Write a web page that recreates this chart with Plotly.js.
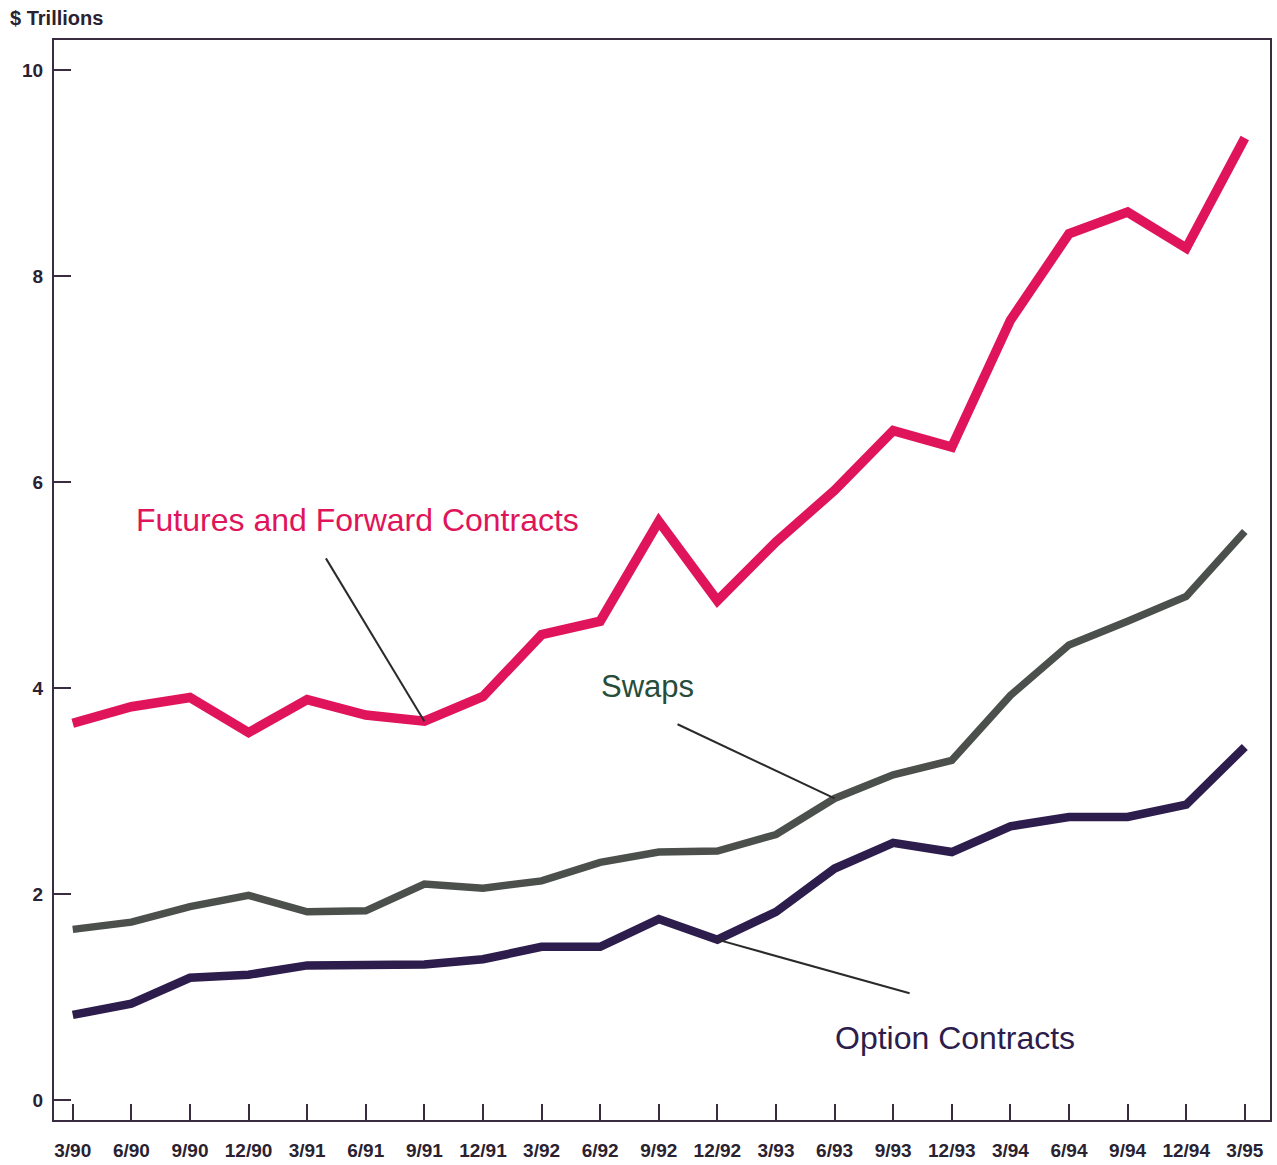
<!DOCTYPE html>
<html>
<head>
<meta charset="utf-8">
<script src="https://cdn.plot.ly/plotly-3.0.1.min.js"></script>
<style>html,body{margin:0;padding:0;background:#fff;}#chart{width:1277px;height:1165px;}</style>
</head>
<body>
<div id="chart"></div>
<script>
const quarters = ["3/90","6/90","9/90","12/90","3/91","6/91","9/91","12/91","3/92","6/92","9/92","12/92","3/93","6/93","9/93","12/93","3/94","6/94","9/94","12/94","3/95"];
const futuresForwards = [3.66,3.82,3.91,3.57,3.89,3.74,3.68,3.92,4.52,4.65,5.62,4.85,5.42,5.92,6.50,6.34,7.57,8.41,8.62,8.27,9.34];
const swaps = [1.66,1.73,1.88,1.99,1.83,1.84,2.10,2.06,2.13,2.31,2.41,2.42,2.58,2.93,3.16,3.30,3.93,4.42,4.65,4.89,5.52];
const options = [0.83,0.94,1.19,1.22,1.31,1.31,1.32,1.37,1.49,1.49,1.76,1.56,1.83,2.25,2.50,2.41,2.66,2.75,2.75,2.87,3.43];
const yTicks = [0,2,4,6,8,10];

const xIdx = quarters.map((q,i)=>i);
const FONT = '"Liberation Sans", Arial, Helvetica, sans-serif';
const cRed = '#e0145a', cGray = '#4b504d', cPurple = '#2d1d4c';

const traces = [
  {x:xIdx, y:futuresForwards, mode:'lines', line:{color:cRed, width:9.5}, hoverinfo:'none'},
  {x:xIdx, y:swaps, mode:'lines', line:{color:cGray, width:7.5}, hoverinfo:'none'},
  {x:xIdx, y:options, mode:'lines', line:{color:cPurple, width:8.5}, hoverinfo:'none'}
];

const layout = {
  width:1277, height:1165,
  margin:{l:54, r:7, t:40, b:45},
  paper_bgcolor:'#fff', plot_bgcolor:'#fff',
  showlegend:false,
  font:{family:FONT, color:'#2a2230'},
  xaxis:{
    range:[-0.32,20.43], tickmode:'array', tickvals:xIdx, ticktext:quarters,
    ticks:'inside', ticklen:16, tickwidth:2, tickcolor:'#3a2c40',
    showline:true, linecolor:'#3a2c40', linewidth:2, mirror:true,
    showgrid:false, zeroline:false, ticklabelstandoff:12,
    tickfont:{family:FONT, size:19, color:'#2a2230', weight:'bold'}
  },
  yaxis:{
    range:[-0.19,10.29], tickmode:'array', tickvals:yTicks, ticktext:yTicks.map(String),
    ticks:'inside', ticklen:17, tickwidth:2, tickcolor:'#3a2c40',
    showline:true, linecolor:'#3a2c40', linewidth:2, mirror:true,
    showgrid:false, zeroline:false, ticklabelstandoff:5,
    tickfont:{family:FONT, size:19, color:'#2a2230', weight:'bold'}
  },
  shapes:[
    {type:'line', xref:'x', yref:'y', x0:4.32, y0:5.26, x1:6.0, y1:3.68, line:{color:'#2a2a2a', width:2}},
    {type:'line', xref:'x', yref:'y', x0:10.32, y0:3.65, x1:13.0, y1:2.93, line:{color:'#2a2a2a', width:2}},
    {type:'line', xref:'x', yref:'y', x0:14.28, y0:1.04, x1:11.0, y1:1.56, line:{color:'#2a2a2a', width:2}}
  ],
  annotations:[
    {xref:'paper', yref:'paper', x:-0.038, y:1.0, yshift:9, xanchor:'left', yanchor:'bottom', showarrow:false,
     text:'$ Trillions', font:{family:FONT, size:20, color:'#2a2230', weight:'bold'}},
    {xref:'x', yref:'y', x:4.86, y:5.63, showarrow:false, text:'Futures and Forward Contracts',
     font:{family:FONT, size:32, color:cRed}},
    {xref:'x', yref:'y', x:9.81, y:4.02, showarrow:false, text:'Swaps',
     font:{family:FONT, size:31, color:'#274d3a'}},
    {xref:'x', yref:'y', x:15.05, y:0.61, showarrow:false, text:'Option Contracts',
     font:{family:FONT, size:32, color:cPurple}}
  ]
};

Plotly.newPlot('chart', traces, layout, {staticPlot:true, displayModeBar:false});
</script>
</body>
</html>
